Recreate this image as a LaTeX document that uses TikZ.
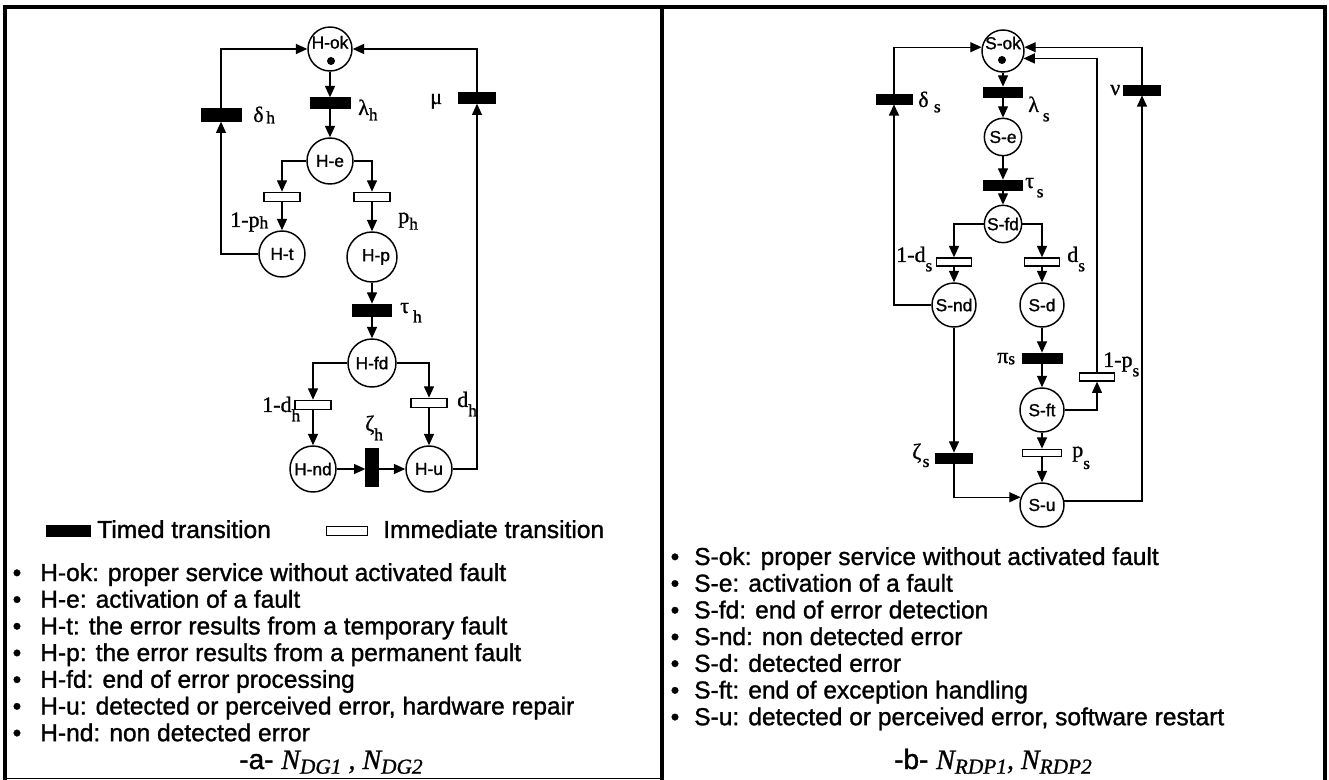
\documentclass[tikz,border=0pt]{standalone}
\usepackage{fontspec}
\setmainfont{Liberation Sans}[FakeBold=1.2]
\newfontfamily\tnr{Liberation Serif}[FakeBold=1.0]
\usetikzlibrary{arrows.meta}
\newcommand\nsub[2][4pt]{\raisebox{-#1}{\fontsize{13}{13}\selectfont #2}}
\newcommand\capsub[1]{\raisebox{-3.5pt}{\fontsize{16}{16}\selectfont\itshape #1}}
\begin{document}
\begin{tikzpicture}[x=0.75pt,y=-0.75pt,
  pl/.style={circle,draw,line width=1.1pt,minimum size=#1,inner sep=0pt,font=\fontsize{13}{13}\selectfont},
  tok/.style={circle,fill,minimum size=6pt,inner sep=0pt},
  timed/.style 2 args={rectangle,fill=black,draw=black,line width=0.5pt,minimum width=#1,minimum height=#2,inner sep=0pt},
  imm/.style 2 args={rectangle,fill=white,draw=black,line width=1pt,minimum width=#1,minimum height=#2,inner sep=0pt},
  arr/.style={-{Triangle[length=8.5pt,width=7.5pt]},line width=1pt},
  lab/.style={inner sep=0pt,anchor=base west,font=\tnr\fontsize{16.5}{16.5}\selectfont},
  txt/.style={inner sep=0pt,anchor=base west,font=\fontsize{18.4}{20}\selectfont},
  bul/.style={inner sep=0pt,anchor=base,font=\fontsize{18.4}{20}\selectfont},
  captxt/.style={inner sep=0pt,anchor=base,font=\fontsize{21}{21}\selectfont},
  bordr/.style={line width=3pt},
]
\useasboundingbox (0,0) rectangle (1329,780);
% frame
\draw[bordr] (5,780) -- (5,7.5) -- (1325,7.5) -- (1325,780);
\draw[line width=2.3pt] (662,7.5) -- (662,780);
\draw[line width=0.8pt] (5,778.5) -- (662,778.5);

% ---------------- left net ----------------
\node[pl=33pt,label={[yshift=5pt,font=\fontsize{13}{13}\selectfont]center:H-ok}] (Hok) at (330,49) {};
\node[tok] (tokH) at (331,61) {};
\node[timed={30pt}{8pt}] (lamh) at (330,103) {};
\node[pl=34.5pt] (He) at (330,161) {H-e};
\node[timed={30pt}{9.5pt}] (delh) at (221,115) {};
\node[timed={28pt}{8pt}] (mu) at (477,98) {};
\node[imm={27pt}{7pt}] (i1) at (282,197) {};
\node[imm={27pt}{7pt}] (i2) at (372,197) {};
\node[pl=34.5pt] (Ht) at (282,254) {H-t};
\node[pl=37.5pt,label={[xshift=3pt,font=\fontsize{13}{13}\selectfont]center:H-p}] (Hp) at (372,257) {};
\node[timed={29pt}{9pt}] (tauh) at (372,310) {};
\node[pl=36pt] (Hfd) at (372,363) {H-fd};
\node[imm={27pt}{7pt}] (i3) at (313,405) {};
\node[imm={27pt}{7pt}] (i4) at (429,403) {};
\node[pl=34.5pt] (Hnd) at (313,469) {H-nd};
\node[timed={9.5pt}{28.5pt}] (zeth) at (372,467) {};
\node[pl=34.5pt] (Hu) at (429,469) {H-u};

\draw[arr] (Hok) -- (lamh);
\draw[arr] (lamh) -- (He);
\draw[arr] (He.west) -| (i1.north);
\draw[arr] (He.east) -| (i2.north);
\draw[arr] (i1) -- (Ht);
\draw[arr] (i2) -- (Hp);
\draw[arr] (Hp) -- (tauh);
\draw[arr] (tauh) -- (Hfd);
\draw[arr] (Hfd.west) -| (i3.north);
\draw[arr] (Hfd.east) -| (i4.north);
\draw[arr] (i3) -- (Hnd);
\draw[arr] (i4) -- (Hu);
\draw[arr] (Hnd.east) -- (zeth.west |- Hnd.east);
\draw[arr] (zeth.east |- Hu.west) -- (Hu.west);
\draw[arr] (Ht.west) -| (delh.south);
\draw[arr] (delh.north) |- (Hok.west);
\draw[arr] (Hu.east) -| (mu.south);
\draw[arr] (mu.north) |- (Hok.east);

\node[lab] (Ldelh) at (253,122) {δ\kern2pt\nsub[1pt]{h}};
\node[lab] (Llamh) at (358,115) {λ\nsub[4pt]{h}};
\node[lab] (Lmu) at (430,104) {μ};
\node[lab] (L1ph) at (230,227) {1-p\nsub[1pt]{h}};
\node[lab] (Lph) at (398,223) {p\nsub[5pt]{h}};
\node[lab] (Ltauh) at (400,313) {τ\kern3pt\nsub[7pt]{h}};
\node[lab] (L1dh) at (262,412) {1-d\nsub[7pt]{h}};
\node[lab] (Ldh) at (457,407) {d\nsub[7pt]{h}};
\node[lab] (Lzeth) at (365,431) {ζ\nsub[7pt]{h}};

% legend
\node[timed={33pt}{8pt}] (legT) at (68,531) {};
\node[txt] (legTt) at (97,538) {Timed transition};
\node[imm={31pt}{7pt}] (legI) at (347,531) {};
\node[txt] (legIt) at (383,538) {Immediate transition};

% left bullets
\node[bul] (b1) at (17,581) {•};
\node[txt] (t1) at (40,581) {H-ok: proper service without activated fault};
\node[bul] (b2) at (17,607.7) {•};
\node[txt] (t2) at (40,607.7) {H-e: activation of a fault};
\node[bul] (b3) at (17,634.4) {•};
\node[txt] (t3) at (40,634.4) {H-t: the error results from a temporary fault};
\node[bul] (b4) at (17,661.1) {•};
\node[txt] (t4) at (40,661.1) {H-p: the error results from a permanent fault};
\node[bul] (b5) at (17,687.8) {•};
\node[txt] (t5) at (40,687.8) {H-fd: end of error processing};
\node[bul] (b6) at (17,714.5) {•};
\node[txt] (t6) at (40,714.5) {H-u: detected or perceived error, hardware repair};
\node[bul] (b7) at (17,741.2) {•};
\node[txt] (t7) at (40,741.2) {H-nd: non detected error};

\node[captxt] (capa) at (331,769) {-a- {\tnr\itshape N\capsub{DG1} , N\capsub{DG2}}};

% ---------------- right net ----------------
\node[pl=31.5pt,label={[yshift=6pt,font=\fontsize{13}{13}\selectfont]center:S-ok}] (Sok) at (1003,51) {};
\node[tok] (tokS) at (1002,60) {};
\node[timed={29pt}{7.5pt}] (lams) at (1003,92) {};
\node[pl=28pt] (Se) at (1003,137) {S-e};
\node[timed={29pt}{7.5pt}] (taus) at (1003,185) {};
\node[pl=28pt] (Sfd) at (1003,224) {S-fd};
\node[timed={27pt}{7.5pt}] (dels) at (894,99) {};
\node[timed={28pt}{7.5pt}] (nu) at (1142,90) {};
\node[imm={26pt}{6pt}] (i1ds) at (954,262) {};
\node[imm={26pt}{6pt}] (ids) at (1042,262) {};
\node[pl=33pt] (Snd) at (954,305) {S-nd};
\node[pl=33pt] (Sd) at (1042,305) {S-d};
\node[timed={30pt}{7.5pt}] (pis) at (1042,358) {};
\node[pl=33pt] (Sft) at (1042,410) {S-ft};
\node[imm={26pt}{6pt}] (i1ps) at (1097,377) {};
\node[imm={29pt}{5.5pt}] (ips) at (1042,453) {};
\node[timed={28pt}{7.5pt}] (zets) at (954,458) {};
\node[pl=33pt] (Su) at (1042,505) {S-u};

\draw[arr] (Sok) -- (lams);
\draw[arr] (lams) -- (Se);
\draw[arr] (Se) -- (taus);
\draw[arr] (taus) -- (Sfd);
\draw[arr] (Sfd.west) -| (i1ds.north);
\draw[arr] (Sfd.east) -| (ids.north);
\draw[arr] (i1ds) -- (Snd);
\draw[arr] (ids) -- (Sd);
\draw[arr] (Snd.west) -| (dels.south);
\draw[arr] (dels.north) |- (Sok.170);
\draw[arr] (Sd) -- (pis);
\draw[arr] (pis) -- (Sft);
\draw[arr] (Sft) -- (ips);
\draw[arr] (ips) -- (Su);
\draw[arr] (Sft.east) -| (i1ps.south);
\draw[arr] (i1ps.north) |- (Sok.-20);
\draw[arr] (Snd) -- (zets);
\draw[arr] (zets.south) |- (Su.160);
\draw[arr] (Su.10) -| (nu.south);
\draw[arr] (nu.north) |- (Sok.10);

\node[lab] (Ldels) at (918,107) {δ\kern4pt\nsub[4pt]{s}};
\node[lab] (Llams) at (1028,112) {λ\kern3pt\nsub[7pt]{s}};
\node[lab] (Lnu) at (1110,95) {ν};
\node[lab] (Ltaus) at (1025,188) {τ\kern2pt\nsub[7pt]{s}};
\node[lab] (L1ds) at (896,262) {1-d\nsub[7pt]{s}};
\node[lab] (Lds) at (1067,262) {d\nsub[7pt]{s}};
\node[lab] (Lpis) at (997,363) {π\nsub[1pt]{s}};
\node[lab] (L1ps) at (1103,367) {1-p\nsub[7pt]{s}};
\node[lab] (Lps) at (1072,457) {p\nsub[9pt]{s}};
\node[lab] (Lzets) at (912,459) {ζ\kern1pt\nsub[6pt]{s}};

% right bullets
\node[bul] (c1) at (675,565) {•};
\node[txt] (u1) at (694,565) {S-ok: proper service without activated fault};
\node[bul] (c2) at (675,591.7) {•};
\node[txt] (u2) at (694,591.7) {S-e: activation of a fault};
\node[bul] (c3) at (675,618.4) {•};
\node[txt] (u3) at (694,618.4) {S-fd: end of error detection};
\node[bul] (c4) at (675,645.1) {•};
\node[txt] (u4) at (694,645.1) {S-nd: non detected error};
\node[bul] (c5) at (675,671.8) {•};
\node[txt] (u5) at (694,671.8) {S-d: detected error};
\node[bul] (c6) at (675,698.5) {•};
\node[txt] (u6) at (694,698.5) {S-ft: end of exception handling};
\node[bul] (c7) at (675,725.2) {•};
\node[txt] (u7) at (694,725.2) {S-u: detected or perceived error, software restart};

\node[captxt] (capb) at (993,769) {-b- {\tnr\itshape N\capsub{RDP1}, N\capsub{RDP2}}};
\end{tikzpicture}
\end{document}
